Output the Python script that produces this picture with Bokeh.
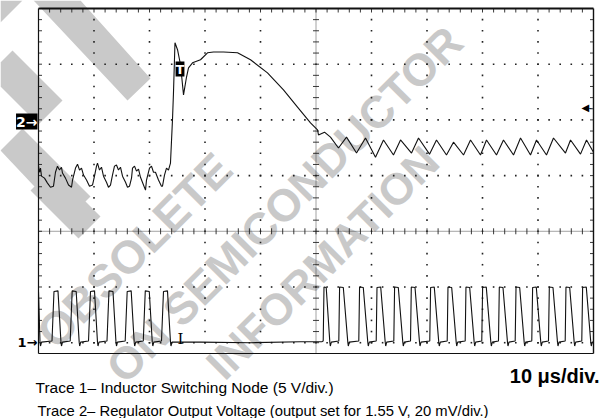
import numpy as np
from bokeh.plotting import figure
from bokeh.models import Range1d, Label, PolyAnnotation
from bokeh.embed import file_html
from bokeh.resources import INLINE

# ---------------- data ----------------
# Trace 2: regulator output (mV, relative to the channel-2 reference marker), time in us
t2_us = [0.00, 0.18, 0.36, 0.54, 1.08, 1.62, 2.16, 2.70, 3.06, 3.42, 3.78, 4.14, 4.32, 4.86,
         5.41, 5.95, 6.13, 6.67, 7.03, 7.39, 7.75, 8.11, 8.65, 9.19, 9.73, 10.09, 10.45, 10.63,
         10.99, 11.35, 11.71, 12.25, 12.61, 12.97, 13.33, 13.69, 14.05, 14.41, 14.77, 15.14,
         15.68, 16.04, 16.40, 16.76, 16.94, 17.30, 17.66, 18.02, 18.38, 18.92, 19.28, 19.46,
         20.00, 20.36, 20.72, 21.08, 21.62, 22.16, 22.34, 22.70, 23.06, 23.42, 23.78, 24.14,
         24.32, 24.59, 25.05, 25.59, 26.13, 26.67, 27.03, 27.75, 29.19, 30.45, 31.53, 33.33,
         35.86, 38.20, 41.26, 44.14, 46.67, 49.01, 50.27,
         50.45, 51.53, 52.61, 54.05, 55.50, 57.30, 58.92, 60.72, 62.16, 63.96, 65.23, 67.21,
         68.47, 70.45, 71.71, 73.51, 74.77, 76.58, 77.84, 79.64, 80.72, 82.52, 83.78, 85.59,
         86.85, 88.65, 89.73, 91.53, 92.79, 94.95, 95.86, 97.66, 98.74, 100.0]
v2_mv = [-16.6, -18.8, -17.3, -20.2, -20.9, -22.7, -24.2, -23.8, -18.8, -16.6, -18.0, -17.0, -19.1, -20.9,
         -23.4, -24.2, -21.6, -17.3, -15.9, -18.0, -17.3, -19.8, -21.6, -23.8, -23.4, -20.2, -16.6, -15.5,
         -18.0, -17.0, -20.2, -22.4, -24.2, -23.4, -19.8, -16.6, -16.2, -18.0, -17.0, -20.2,
         -22.4, -24.2, -23.8, -20.9, -17.3, -16.6, -18.4, -17.7, -20.6, -23.4, -25.2, -21.6,
         -17.3, -16.6, -18.8, -18.8, -21.6, -23.8, -23.8, -19.8, -17.3, -18.0, -15.5, 0.0,
         9.7, 27.7, 25.2, 19.8, 9.0, 15.4, 18.7, 20.5, 21.6, 24.1, 24.4, 24.4,
         24.1, 21.6, 16.9, 10.8, 4.6, -1.1, -3.6,
         -5.4, -4.4, -6.2, -10.1, -6.2, -11.9, -6.5, -13.4, -7.2, -12.6, -7.2, -11.9,
         -6.5, -12.3, -7.2, -12.6, -8.0, -12.6, -7.2, -12.6, -7.2, -12.6, -7.2, -12.6,
         -6.5, -12.6, -7.2, -12.6, -6.5, -11.9, -7.2, -12.3, -7.2, -11.6]

# Trace 1: inductor switching node (V), time in us
t1_us = [0.00, 0.27, 0.36, 0.54,
         2.43, 2.79, 3.51, 4.05, 4.14, 4.32,
         5.71, 6.07, 6.79, 7.33, 7.42, 7.60,
         9.01, 9.37, 10.09, 10.63, 10.72, 10.90,
         12.34, 12.70, 13.42, 13.96, 14.05, 14.23,
         15.62, 15.98, 16.70, 17.24, 17.33, 17.51,
         18.88, 19.24, 19.96, 20.50, 20.60, 20.77,
         22.16, 22.52, 23.24, 23.78, 23.87, 24.05,
         29.19, 38.20, 47.21, 51.10,
         51.30, 51.44, 51.84, 52.49, 52.58, 52.76,
         54.11, 54.25, 54.92, 55.73, 55.82, 56.00,
         57.71, 57.85, 58.52, 59.33, 59.42, 59.60,
         60.85, 60.99, 61.66, 62.47, 62.56, 62.74,
         64.02, 64.16, 64.83, 65.64, 65.73, 65.91,
         67.03, 67.17, 67.84, 68.65, 68.74, 68.92,
         70.50, 70.65, 71.31, 72.12, 72.21, 72.40,
         73.64, 73.78, 74.45, 75.26, 75.35, 75.53,
         76.88, 77.02, 77.69, 78.50, 78.59, 78.77,
         79.87, 80.02, 80.68, 81.50, 81.59, 81.77,
         82.88, 83.03, 83.69, 84.50, 84.59, 84.77,
         85.89, 86.04, 86.70, 87.51, 87.60, 87.78,
         88.88, 89.03, 89.69, 90.50, 90.59, 90.77,
         91.89, 92.04, 92.70, 93.51, 93.60, 93.78,
         94.90, 95.04, 95.71, 96.52, 96.61, 96.79,
         97.89, 98.04, 98.70, 99.51, 99.60, 99.78,
         100.0]
v1_v = [4.6, 0.05, -0.3, 0.05,
        0.15, 4.6, 4.65, 0.05, -0.3, 0.05,
        0.15, 4.65, 4.6, 0.05, -0.3, 0.05,
        0.15, 4.6, 4.65, 0.05, -0.3, 0.05,
        0.15, 4.65, 4.6, 0.05, -0.3, 0.05,
        0.15, 4.6, 4.65, 0.05, -0.3, 0.05,
        0.15, 4.65, 4.6, 0.05, -0.3, 0.05,
        0.15, 4.6, 4.65, 0.05, -0.3, 0.05,
        0.05, 0.0, 0.08, 0.1,
        0.15, 5.0, 4.95, 0.05, -0.3, 0.05,
        0.15, 5.0, 4.95, 0.05, -0.3, 0.05,
        0.15, 5.0, 4.95, 0.05, -0.3, 0.05,
        0.15, 4.95, 5.0, 0.05, -0.3, 0.05,
        0.15, 5.0, 4.95, 0.05, -0.3, 0.05,
        0.15, 5.0, 4.95, 0.05, -0.3, 0.05,
        0.15, 4.95, 5.0, 0.05, -0.3, 0.05,
        0.15, 5.0, 4.95, 0.05, -0.3, 0.05,
        0.15, 5.0, 4.95, 0.05, -0.3, 0.05,
        0.15, 4.95, 5.0, 0.05, -0.3, 0.05,
        0.15, 5.0, 4.95, 0.05, -0.3, 0.05,
        0.15, 5.0, 4.95, 0.05, -0.3, 0.05,
        0.15, 4.95, 5.0, 0.05, -0.3, 0.05,
        0.15, 5.0, 4.95, 0.05, -0.3, 0.05,
        0.15, 5.0, 4.95, 0.05, -0.3, 0.05,
        0.15, 4.95, 5.0, 0.05, -0.3, 0.05,
        0.05]

# scope settings
us_per_div = 10
ch1_v_per_div = 5
ch1_ref_div = -2          # "1->" marker
ch2_mv_per_div = 20
ch2_ref_div = 2           # "2->" marker
n_hdiv = 10
y_top_div = 4
y_bot_div = -2.194        # picture is cropped below the graticule

timebase_label = "10 \u03bcs/div."
caption1 = "Trace 1\u2013 Inductor Switching Node (5 V/div.)"
caption2 = "Trace 2\u2013 Regulator Output Voltage (output set for 1.55 V, 20 mV/div.)"

# ---------------- figure: the frame fills the whole canvas ----------------
W, H = 606, 418
SX0, SX1 = 38.0, 593.0     # scope screen left/right (px)
SY_TOP, SY_BOT = 8.0, 353.0
px_per_us = (SX1 - SX0) / (n_hdiv * us_per_div)
px_per_div = (SY_BOT - SY_TOP) / (y_top_div - y_bot_div)
y_ctr = SY_TOP + y_top_div * px_per_div

x0 = -SX0 / px_per_us
x1 = (W - SX0) / px_per_us
yb = (y_ctr - H) / px_per_div
yt = y_ctr / px_per_div

p = figure(width=W, height=H, output_backend="svg", toolbar_location=None,
           x_range=Range1d(x0, x1), y_range=Range1d(yb, yt),
           x_axis_type=None, y_axis_type=None, min_border=0)
p.grid.visible = False
p.outline_line_color = None
p.background_fill_color = "white"
p.border_fill_color = "white"

p.extra_y_ranges = {
    "ch1": Range1d((yb - ch1_ref_div) * ch1_v_per_div, (yt - ch1_ref_div) * ch1_v_per_div),
    "ch2": Range1d((yb - ch2_ref_div) * ch2_mv_per_div, (yt - ch2_ref_div) * ch2_mv_per_div),
}

# picture pixel -> screen units of the (full-canvas) frame
def sx(X):
    return X
def sy(Y):
    return H - Y

# ---------------- watermark (underlay) ----------------
wm = "#c9c9c9"
def wm_poly(pts):
    p.add_layout(PolyAnnotation(xs=[sx(a) for a, b in pts], ys=[sy(b) for a, b in pts],
                                xs_units="screen", ys_units="screen",
                                fill_color=wm, fill_alpha=1.0, line_color=None, level="underlay"))
wm_poly([(33, 0), (80, 0), (150, 78), (127, 100), (35, 2)])
wm_poly([(0, 0), (22, 0), (0, 22)])
wm_poly([(0, 62), (12, 50), (62, 100), (38, 124), (0, 86)])
wm_poly([(0, 150), (22, 128), (90, 196), (66, 220)])
wm_poly([(30, 190), (52, 168), (100, 216), (78, 238)])

def wm_text(text, X, Y, size):
    p.add_layout(Label(text=text, x=sx(X), y=sy(Y), x_units="screen", y_units="screen",
                       angle=np.pi / 4, text_align="center", text_baseline="middle",
                       text_font="Liberation Sans", text_font_style="bold",
                       text_font_size=size, text_color=wm, level="underlay"))
wm_text("OBSOLETE", 134, 250, "46px")
wm_text("ON SEMICONDUCTOR", 284, 204, "45px")
wm_text("INFORMATION", 322, 262, "44px")

# ---------------- graticule ----------------
xs_major = [i * us_per_div for i in range(1, n_hdiv) if i != n_hdiv // 2]
ys_major = [-2, -1, 1, 2, 3]
fine_y = np.arange(-10, 21) * 0.2
fine_y = fine_y[(fine_y > y_bot_div) & (fine_y < y_top_div)]
fine_x = np.arange(1, 50) * 2.0

dx, dy = [], []
for x in xs_major:
    dx += [x] * len(fine_y); dy += list(fine_y)
for y in ys_major:
    dx += list(fine_x); dy += [y] * len(fine_x)
p.scatter(dx, dy, marker="square", size=1.6, color="#222222", line_color=None)

ux = 1 / px_per_us      # 1 px in us
uy = 1 / px_per_div     # 1 px in div
xmid = n_hdiv * us_per_div / 2
p.segment(x0=[xmid], x1=[xmid], y0=[y_bot_div], y1=[y_top_div],
          line_color="#333333", line_width=0.9, line_dash="1 1")
p.segment(x0=[0], x1=[n_hdiv * us_per_div], y0=[0], y1=[0],
          line_color="#333333", line_width=0.9, line_dash="1 1")
p.segment(x0=[xmid - 3 * ux] * len(fine_y), x1=[xmid + 3 * ux] * len(fine_y), y0=fine_y, y1=fine_y,
          line_color="#222222", line_width=0.9)
p.segment(x0=fine_x, x1=fine_x, y0=[-3 * uy] * len(fine_x), y1=[3 * uy] * len(fine_x),
          line_color="#222222", line_width=0.9)
# border ticks
p.segment(x0=fine_x, x1=fine_x, y0=[y_top_div] * len(fine_x), y1=[y_top_div - 4 * uy] * len(fine_x),
          line_color="#222222", line_width=0.9)
p.segment(x0=[0] * len(fine_y), x1=[3.5 * ux] * len(fine_y), y0=fine_y, y1=fine_y,
          line_color="#222222", line_width=0.9)
p.segment(x0=[100] * len(fine_y), x1=[100 - 3.5 * ux] * len(fine_y), y0=fine_y, y1=fine_y,
          line_color="#222222", line_width=0.9)
# screen border
p.segment(x0=[0, 0, 100, 0], x1=[100, 0, 100, 100],
          y0=[y_top_div, y_bot_div, y_bot_div, y_bot_div], y1=[y_top_div, y_top_div, y_top_div, y_bot_div],
          line_color="#111111", line_width=[1.8, 1.2, 1.4, 1.2])

# ---------------- traces ----------------
p.line(t2_us, v2_mv, y_range_name="ch2", line_color="#111111", line_width=1.1)
p.line(t1_us, v1_v, y_range_name="ch1", line_color="#111111", line_width=1.1)

# ---------------- scope markers ----------------
def lab(text, X, Y, **kw):
    p.add_layout(Label(text=text, x=sx(X), y=sy(Y), x_units="screen", y_units="screen", **kw))

lab("2\u2192", 37, 121, text_align="right", text_baseline="middle", text_color="white",
    background_fill_color="black", text_font="DejaVu Sans", text_font_style="bold", text_font_size="14px")
lab("1\u2192", 37, 342, text_align="right", text_baseline="middle", text_color="black",
    text_font="DejaVu Sans", text_font_style="bold", text_font_size="13px")
lab("T", 179.5, 68.5, text_align="center", text_baseline="middle", text_color="white",
    background_fill_color="black", text_font="DejaVu Sans", text_font_style="bold", text_font_size="13px")
lab("I", 180, 338.5, text_align="center", text_baseline="middle", text_color="black",
    text_font="DejaVu Serif", text_font_size="15px")
lab("\u25c0", 581, 107, text_align="left", text_baseline="middle", text_color="black",
    text_font="DejaVu Sans", text_font_size="10px")
lab("\u2013", 587, 107, text_align="left", text_baseline="middle", text_color="black",
    text_font="DejaVu Sans", text_font_size="9px")

# ---------------- captions ----------------
lab(timebase_label, 599, 375, text_align="right", text_baseline="alphabetic", text_color="black",
    text_font="Liberation Sans", text_font_style="bold", text_font_size="20px")
lab(caption1, 35, 387, text_align="left", text_baseline="alphabetic", text_color="black",
    text_font="Liberation Sans", text_font_size="15.5px")
lab(caption2, 37, 410, text_align="left", text_baseline="alphabetic", text_color="black",
    text_font="Liberation Sans", text_font_size="14.8px")

open("out.html", "w").write(file_html(p, INLINE))
